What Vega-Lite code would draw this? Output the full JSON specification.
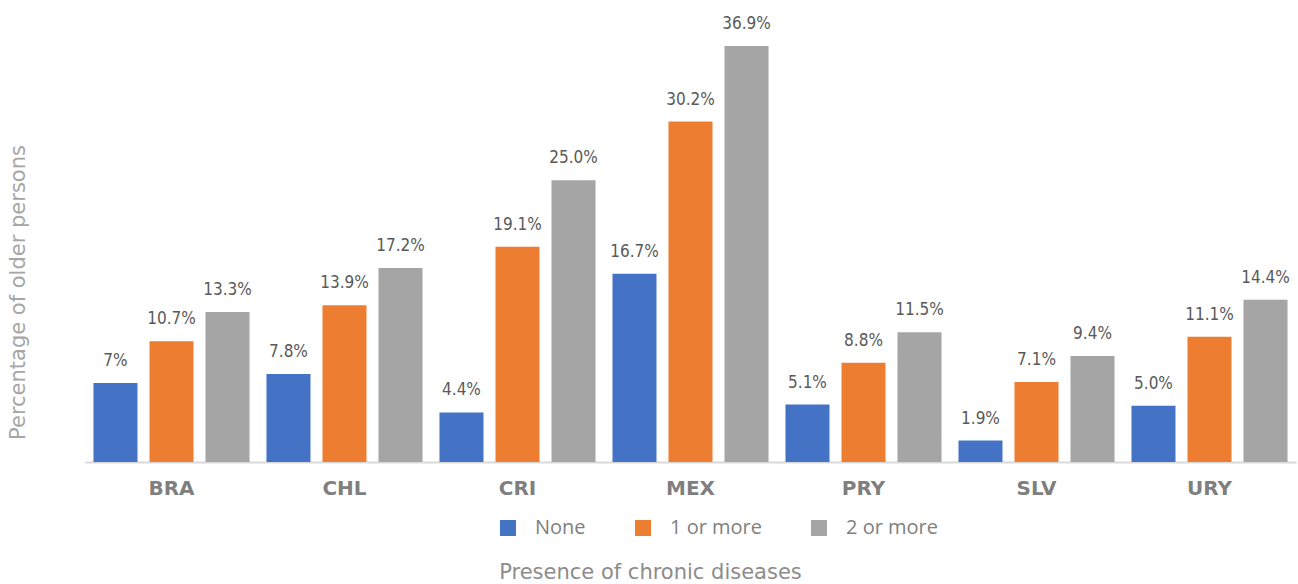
{
  "$schema": "https://vega.github.io/schema/vega-lite/v6.json",
  "autosize": "none",
  "width": 1211,
  "height": 416,
  "padding": {"left": 85, "top": 46, "right": 2, "bottom": 122},
  "background": "white",
  "config": {"view": {"stroke": null}},
  "data": {
    "values": [
      {"country": "BRA", "group": "None", "value": 7.0, "label": "7%"},
      {"country": "BRA", "group": "1 or more", "value": 10.7, "label": "10.7%"},
      {"country": "BRA", "group": "2 or more", "value": 13.3, "label": "13.3%"},
      {"country": "CHL", "group": "None", "value": 7.8, "label": "7.8%"},
      {"country": "CHL", "group": "1 or more", "value": 13.9, "label": "13.9%"},
      {"country": "CHL", "group": "2 or more", "value": 17.2, "label": "17.2%"},
      {"country": "CRI", "group": "None", "value": 4.4, "label": "4.4%"},
      {"country": "CRI", "group": "1 or more", "value": 19.1, "label": "19.1%"},
      {"country": "CRI", "group": "2 or more", "value": 25.0, "label": "25.0%"},
      {"country": "MEX", "group": "None", "value": 16.7, "label": "16.7%"},
      {"country": "MEX", "group": "1 or more", "value": 30.2, "label": "30.2%"},
      {"country": "MEX", "group": "2 or more", "value": 36.9, "label": "36.9%"},
      {"country": "PRY", "group": "None", "value": 5.1, "label": "5.1%"},
      {"country": "PRY", "group": "1 or more", "value": 8.8, "label": "8.8%"},
      {"country": "PRY", "group": "2 or more", "value": 11.5, "label": "11.5%"},
      {"country": "SLV", "group": "None", "value": 1.9, "label": "1.9%"},
      {"country": "SLV", "group": "1 or more", "value": 7.1, "label": "7.1%"},
      {"country": "SLV", "group": "2 or more", "value": 9.4, "label": "9.4%"},
      {"country": "URY", "group": "None", "value": 5.0, "label": "5.0%"},
      {"country": "URY", "group": "1 or more", "value": 11.1, "label": "11.1%"},
      {"country": "URY", "group": "2 or more", "value": 14.4, "label": "14.4%"}
    ]
  },
  "encoding": {
    "x": {
      "field": "country", "type": "nominal", "sort": null,
      "scale": {"paddingInner": 0.098, "paddingOuter": 0.049},
      "axis": {
        "title": "Presence of chronic diseases",
        "titleFont": "DejaVu Sans", "titleFontSize": 21, "titleFontWeight": "normal", "titleColor": "#8c8c8c",
        "titleX": 565, "titleY": 110, "titleBaseline": "middle", "titleAlign": "center",
        "labelFont": "DejaVu Sans", "labelFontSize": 20, "labelFontWeight": "bold", "labelColor": "#7f7f7f",
        "labelPadding": 16, "labelAngle": 0,
        "ticks": false, "domainColor": "#d9d9d9", "domainWidth": 2
      }
    },
    "xOffset": {
      "field": "group", "type": "nominal", "sort": ["None", "1 or more", "2 or more"],
      "scale": {"paddingInner": 0.2143, "paddingOuter": 0}
    },
    "y": {
      "field": "value", "type": "quantitative",
      "scale": {"domain": [0, 36.9], "nice": false},
      "axis": {
        "title": "Percentage of older persons",
        "titleFont": "DejaVu Sans", "titleFontSize": 21, "titleFontWeight": "normal", "titleColor": "#a6a6a6",
        "titleX": -67, "titleY": 246, "titleAngle": -90, "titleAlign": "center", "titleBaseline": "middle",
        "labels": false, "ticks": false, "domain": false, "grid": false
      }
    }
  },
  "layer": [
    {
      "mark": {"type": "bar"},
      "encoding": {
        "color": {
          "field": "group", "type": "nominal",
          "sort": ["None", "1 or more", "2 or more"],
          "scale": {"domain": ["None", "1 or more", "2 or more"], "range": ["#4472C4", "#ED7D31", "#A5A5A5"]},
          "legend": {
            "title": null, "orient": "none", "direction": "horizontal",
            "legendX": 413, "legendY": 472,
            "symbolType": "square", "symbolSize": 256, "symbolStrokeWidth": 0, "symbolOpacity": 1,
            "labelFont": "Open Sans", "labelFontSize": 20, "labelColor": "#7f7f7f",
            "labelOffset": 17, "columnPadding": 47
          }
        }
      }
    },
    {
      "mark": {"type": "text", "baseline": "bottom", "dy": -13, "font": "'DejaVu Sans Condensed', 'Liberation Sans Narrow', 'Roboto', sans-serif", "fontSize": 17, "color": "#595959"},
      "encoding": {"text": {"field": "label"}}
    }
  ]
}
